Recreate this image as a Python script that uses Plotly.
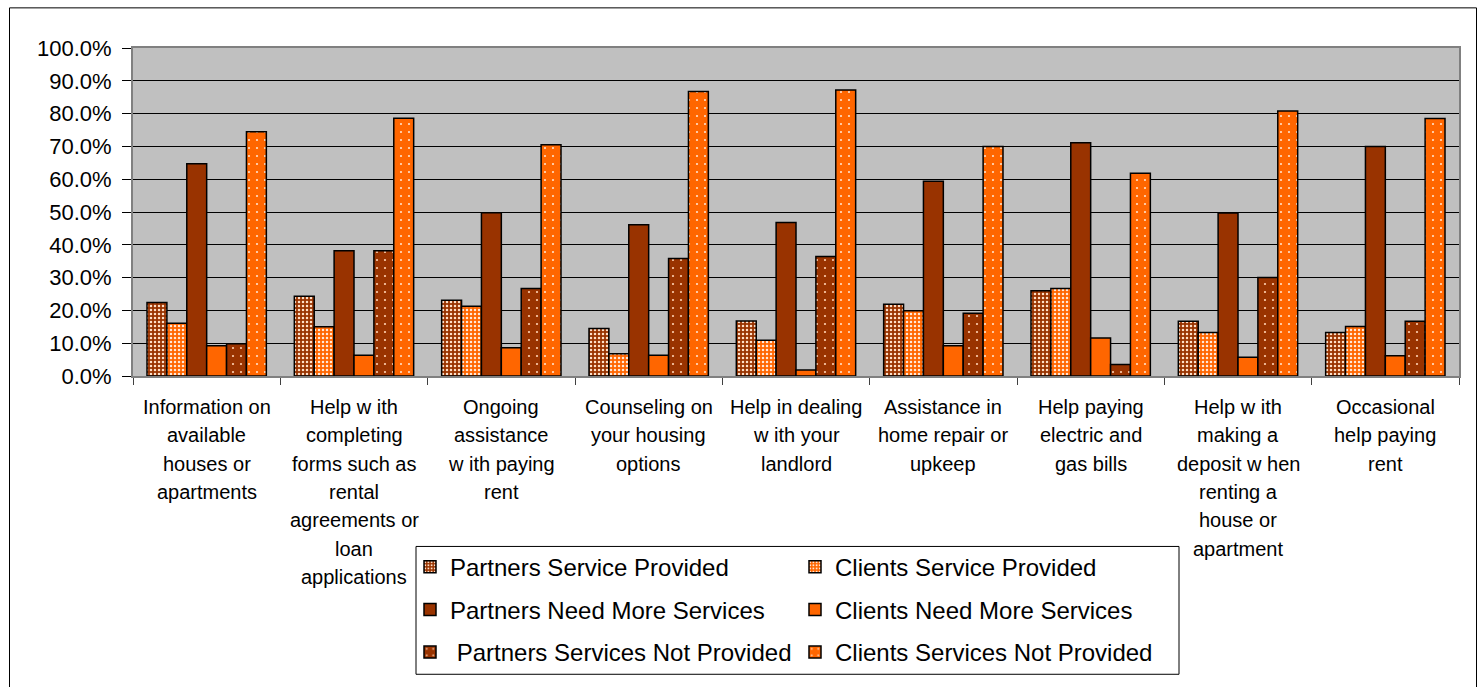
import plotly.graph_objects as go

# ---------------- data ----------------
categories = [
    "Information on available houses or apartments",
    "Help with completing forms such as rental agreements or loan applications",
    "Ongoing assistance with paying rent",
    "Counseling on your housing options",
    "Help in dealing with your landlord",
    "Assistance in home repair or upkeep",
    "Help paying electric and gas bills",
    "Help with making a deposit when renting a house or apartment",
    "Occasional help paying rent",
]
category_label_lines = [
    ["Information on", "available", "houses or", "apartments"],
    ["Help w ith", "completing", "forms such as", "rental", "agreements or", "loan", "applications"],
    ["Ongoing", "assistance", "w ith paying", "rent"],
    ["Counseling on", "your housing", "options"],
    ["Help in dealing", "w ith your", "landlord"],
    ["Assistance in", "home repair or", "upkeep"],
    ["Help paying", "electric and", "gas bills"],
    ["Help w ith", "making a", "deposit w hen", "renting a", "house or", "apartment"],
    ["Occasional", "help paying", "rent"],
]
series_names = [
    "Partners Service Provided",
    "Clients Service Provided",
    "Partners Need More Services",
    "Clients Need More Services",
    "\u00a0Partners Services Not Provided",
    "Clients Services Not Provided",
]
partners_service_provided = [0.224, 0.243, 0.231, 0.145, 0.168, 0.219, 0.260, 0.167, 0.133]
clients_service_provided = [0.161, 0.150, 0.213, 0.068, 0.109, 0.199, 0.267, 0.133, 0.151]
partners_need_more = [0.647, 0.382, 0.498, 0.461, 0.468, 0.594, 0.711, 0.497, 0.700]
clients_need_more = [0.092, 0.063, 0.086, 0.063, 0.018, 0.092, 0.116, 0.057, 0.062]
partners_not_provided = [0.098, 0.382, 0.267, 0.358, 0.364, 0.191, 0.035, 0.300, 0.167]
clients_not_provided = [0.745, 0.786, 0.705, 0.867, 0.872, 0.700, 0.618, 0.808, 0.785]
y_ticks = [i / 10 for i in range(11)]

# ---------------- styling ----------------
BROWN = "#993300"
ORANGE = "#FF6600"
FONT = "Liberation Sans, Arial, sans-serif"

W, H = 1483, 687
PLOT_LEFT, PLOT_RIGHT, PLOT_TOP, PLOT_BOTTOM = 133, 1459, 48, 379
L, R, T, B = PLOT_LEFT, W - PLOT_RIGHT, PLOT_TOP, H - PLOT_BOTTOM
PW, PH = PLOT_RIGHT - PLOT_LEFT, PLOT_BOTTOM - PLOT_TOP


def px_x(px):
    return (px - PLOT_LEFT) / PW


def px_y(py):
    return (PLOT_BOTTOM - py) / PH


series_values = [
    partners_service_provided,
    clients_service_provided,
    partners_need_more,
    clients_need_more,
    partners_not_provided,
    clients_not_provided,
]
series_colors = [BROWN, ORANGE, BROWN, ORANGE, BROWN, ORANGE]
series_patterns = [
    dict(shape=".", size=4, solidity=0.3, fgcolor="#FFE0C8"),
    dict(shape=".", size=4, solidity=0.3, fgcolor="#FFE8D8"),
    None,
    None,
    dict(shape=".", size=8, solidity=0.06, fgcolor="#FFD0B0"),
    dict(shape=".", size=8, solidity=0.06, fgcolor="#FFE0C8"),
]
series_legends = ["legend", "legend", "legend2", "legend2", "legend3", "legend3"]

fig = go.Figure()
for name, vals, col, pat, lg in zip(series_names, series_values, series_colors,
                                     series_patterns, series_legends):
    marker = dict(color=col, line=dict(color="black", width=1.5))
    if pat is not None:
        p = dict(pat)
        p["bgcolor"] = col
        p["fillmode"] = "replace"
        marker["pattern"] = p
    fig.add_trace(go.Bar(x=categories, y=vals, name=name, marker=marker, legend=lg))

# category labels, one annotation per line to match line spacing
annotations = []
for cat, lines in zip(categories, category_label_lines):
    for i, line in enumerate(lines):
        annotations.append(dict(
            x=cat, xref="x", y=0, yref="paper", yanchor="middle",
            yshift=-(31 + 28.3 * i), text=line, showarrow=False,
            font=dict(family=FONT, size=20, color="black"),
        ))

legend_common = dict(
    orientation="h", xanchor="left", yanchor="middle",
    font=dict(family=FONT, size=24, color="black"),
    bgcolor="rgba(0,0,0,0)", entrywidth=340, entrywidthmode="pixels",
    itemclick=False, itemdoubleclick=False,
)

fig.update_layout(
    width=W, height=H,
    margin=dict(l=L, r=R, t=T, b=B),
    paper_bgcolor="white",
    plot_bgcolor="#C0C0C0",
    barmode="group",
    bargap=0.19,
    bargroupgap=0,
    font=dict(family=FONT, color="black"),
    xaxis=dict(
        type="category", showticklabels=False, ticks="outside", tickson="boundaries",
        ticklen=7, tickcolor="#404040", showline=True, linecolor="#808080", linewidth=2,
        mirror=True, showgrid=False,
    ),
    yaxis=dict(
        range=[0, 1], tickvals=y_ticks, tickformat=".1%", ticks="outside", ticklen=9,
        tickcolor="black", showgrid=True, gridcolor="black", gridwidth=1,
        showline=True, linecolor="#808080", linewidth=2, mirror=True,
        tickfont=dict(family=FONT, size=22, color="black"), ticklabelstandoff=6,
        zeroline=False,
    ),
    legend=dict(legend_common, x=px_x(410), y=px_y(572)),
    legend2=dict(legend_common, x=px_x(410), y=px_y(615)),
    legend3=dict(legend_common, x=px_x(410), y=px_y(658)),
    annotations=annotations,
    shapes=[
        dict(type="rect", xref="paper", yref="paper",
             x0=px_x(416), x1=px_x(1179), y0=px_y(551), y1=px_y(680),
             line=dict(color="black", width=1), fillcolor="rgba(0,0,0,0)", layer="below"),
        dict(type="rect", xref="paper", yref="paper",
             x0=px_x(9.5), x1=px_x(1476.5), y0=px_y(7.5), y1=px_y(700),
             line=dict(color="black", width=1), fillcolor="rgba(0,0,0,0)", layer="below"),
    ],
    showlegend=True,
)

fig.write_html(
    "out.html",
    config={"displayModeBar": False},
    post_script="document.body.style.margin='0';document.body.style.overflow='hidden';",
)
